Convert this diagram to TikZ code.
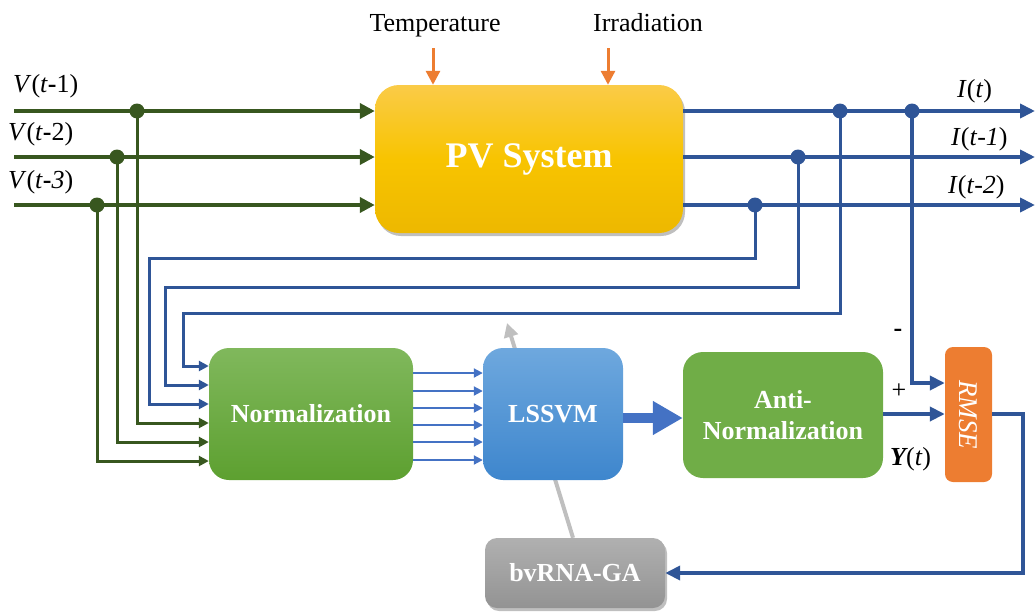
\documentclass[tikz,border=0pt]{standalone}
\usepackage{fontspec}
\setmainfont{Liberation Serif}
\usetikzlibrary{arrows.meta,shadows,backgrounds}
\definecolor{dgreen}{HTML}{38571F}
\definecolor{navy}{HTML}{2F5597}
\definecolor{mblue}{HTML}{4472C4}
\definecolor{orng}{HTML}{ED7D31}
\definecolor{pvtop}{HTML}{FACB48}
\definecolor{pvmid}{HTML}{F8C400}
\definecolor{pvbot}{HTML}{EDB800}
\definecolor{ntop}{HTML}{80B85C}
\definecolor{nbot}{HTML}{5DA030}
\definecolor{ltop}{HTML}{6EA8DE}
\definecolor{lbot}{HTML}{3E86CD}
\definecolor{agreen}{HTML}{70AD47}
\definecolor{gtop}{HTML}{B0B0B0}
\definecolor{gbot}{HTML}{939393}
\definecolor{lgray}{HTML}{BFBFBF}
\begin{document}
\begin{tikzpicture}[x=1pt,y=-1pt,
  box/.style={rounded corners=20pt, inner sep=0pt, text=white, align=center,
    font=\fontsize{26}{31}\selectfont\bfseries},
  softshadow/.style={drop shadow={shadow xshift=2pt, shadow yshift=-3pt, opacity=0.25, fill=black}},
  lbl/.style={inner sep=0pt, font=\fontsize{26}{28}\selectfont},
  gmain/.style={draw=dgreen, line width=4.5pt, -{Triangle[length=15pt,width=15pt]}},
  gbranch/.style={draw=dgreen, line width=3pt, -{Triangle[length=10pt,width=10pt]}},
  bmain/.style={draw=navy, line width=4.5pt, -{Triangle[length=15pt,width=14pt]}},
  bbranch/.style={draw=navy, line width=3pt, -{Triangle[length=10pt,width=10pt]}},
  lline/.style={draw=mblue, line width=2pt, -{Triangle[length=9pt,width=9pt]}},
  oarrow/.style={draw=orng, line width=3pt, -{Triangle[length=14pt,width=14pt]}},
]
\useasboundingbox (0,0) rectangle (1035,613);

% ---------- nodes ----------
\node[box, minimum width=308pt, minimum height=148pt, rounded corners=24pt,
  top color=pvtop, bottom color=pvbot, middle color=pvmid, softshadow,
  font=\fontsize{36}{38}\selectfont\bfseries] (pv) at (529,159) {PV System};
\node[box, minimum width=204pt, minimum height=132pt,
  top color=ntop, bottom color=nbot] (norm) at (311,414) {Normalization};
\node[box, minimum width=140pt, minimum height=132pt,
  top color=ltop, bottom color=lbot] (lssvm) at (553,414) {LSSVM};
\node[box, minimum width=200pt, minimum height=126pt, fill=agreen] (anti) at (783,415) {Anti-\\Normalization};
\node[box, minimum width=47pt, minimum height=135pt, rounded corners=8pt, fill=orng] (rmse) at (968.5,414.5) {};
\node[rotate=-90, inner sep=0pt, text=white, font=\fontsize{27}{28}\selectfont\itshape] (rmseT) at (rmse.center) {RMSE};
\node[box, minimum width=180pt, minimum height=70pt, rounded corners=12pt,
  top color=gtop, bottom color=gbot, softshadow] (ga) at (575,573) {bvRNA-GA};

% ---------- labels ----------
\node[lbl, anchor=base] (tT) at (435,31) {Temperature};
\node[lbl, anchor=base] (tI) at (648,31) {Irradiation};
\node[lbl, anchor=base west] (lv1) at (13,92) {\textit{V}(\textit{t}\textbf{-}1)};
\node[lbl, anchor=base west] (lv2) at (8,140) {\textit{V}(\textit{t}\textbf{-}2)};
\node[lbl, anchor=base west] (lv3) at (8,188) {\textit{V}(\textit{t}\textbf{-}\textit{3})};
\node[lbl, anchor=base west] (li1) at (957,97) {\textit{I}(\textit{t})};
\node[lbl, anchor=base west] (li2) at (951,145) {\textit{I}(\textit{t}-\textit{1})};
\node[lbl, anchor=base west] (li3) at (948,193) {\textit{I}(\textit{t}-\textit{2})};
\node[lbl, anchor=base west] (ly) at (890,465) {{\bfseries\itshape Y}(\textit{t})};
\node[lbl] (lplus) at (899,391) {+};
\node[lbl, font=\fontsize{26}{28}\selectfont\bfseries] (lminus) at (898,333) {-};

% ---------- coordinates ----------
\coordinate (v1) at (14,111);
\coordinate (v2) at (14,157);
\coordinate (v3) at (14,205);
\coordinate (d1) at (137,111);
\coordinate (d2) at (117,157);
\coordinate (d3) at (97,205);
\coordinate (o1) at (1035,111);
\coordinate (o2) at (1035,157);
\coordinate (o3) at (1035,205);
\coordinate (b0) at (912,111);
\coordinate (b1) at (840,111);
\coordinate (b2) at (798,157);
\coordinate (b3) at (755,205);
\coordinate (oT) at (433,48);
\coordinate (oI) at (608,48);
\coordinate (gtip) at (507,323);
\coordinate (rc) at (1023,414);

% ---------- orange inputs ----------
\draw[oarrow] (oT) -- (oT |- pv.north);
\draw[oarrow] (oI) -- (oI |- pv.north);

% ---------- green inputs ----------
\draw[gmain] (v1) -- (v1 -| pv.west);
\draw[gmain] (v2) -- (v2 -| pv.west);
\draw[gmain] (v3) -- (v3 -| pv.west);
\draw[gbranch] (d1) |- (norm.west |- 0,423);
\draw[gbranch] (d2) |- (norm.west |- 0,442);
\draw[gbranch] (d3) |- (norm.west |- 0,461);
\foreach \d in {d1,d2,d3} \fill[dgreen] (\d) circle (7.5pt);

% ---------- blue outputs ----------
\draw[bmain] (pv.east |- o1) -- (o1);
\draw[bmain] (pv.east |- o2) -- (o2);
\draw[bmain] (pv.east |- o3) -- (o3);
\draw[bbranch] (b3) -- (b3 |- 0,258) -| (149,404) -- (norm.west |- 0,404);
\draw[bbranch] (b2) -- (b2 |- 0,287) -| (165,385) -- (norm.west |- 0,385);
\draw[bbranch] (b1) -- (b1 |- 0,313) -| (183,366) -- (norm.west |- 0,366);
\draw[bmain] (b0) |- (rmse.west |- 0,383);
\foreach \b in {b0,b1,b2,b3} \fill[navy] (\b) circle (7.5pt);

% ---------- normalization to LSSVM ----------
\foreach \y in {373,391,408,425,442,460}
  \draw[lline] (norm.east |- 0,\y) -- (lssvm.west |- 0,\y);

% ---------- LSSVM to anti ----------
\draw[draw=mblue, line width=10pt, -{Triangle[length=30pt,width=32pt]}]
  (lssvm.east |- 0,418) -- (anti.west |- 0,418);
\draw[bmain] (anti.east |- rc) -- (rmse.west |- rc);
\draw[bmain] (rmse.east |- rc) -- (rc) |- (ga.east);

% ---------- gray feedback ----------
\begin{scope}[on background layer]
\draw[draw=lgray, line width=4pt, -{Triangle[length=14pt,width=14pt]}]
  ([xshift=-2pt]ga.north) -- (gtip);
\end{scope}
\end{tikzpicture}
\end{document}
